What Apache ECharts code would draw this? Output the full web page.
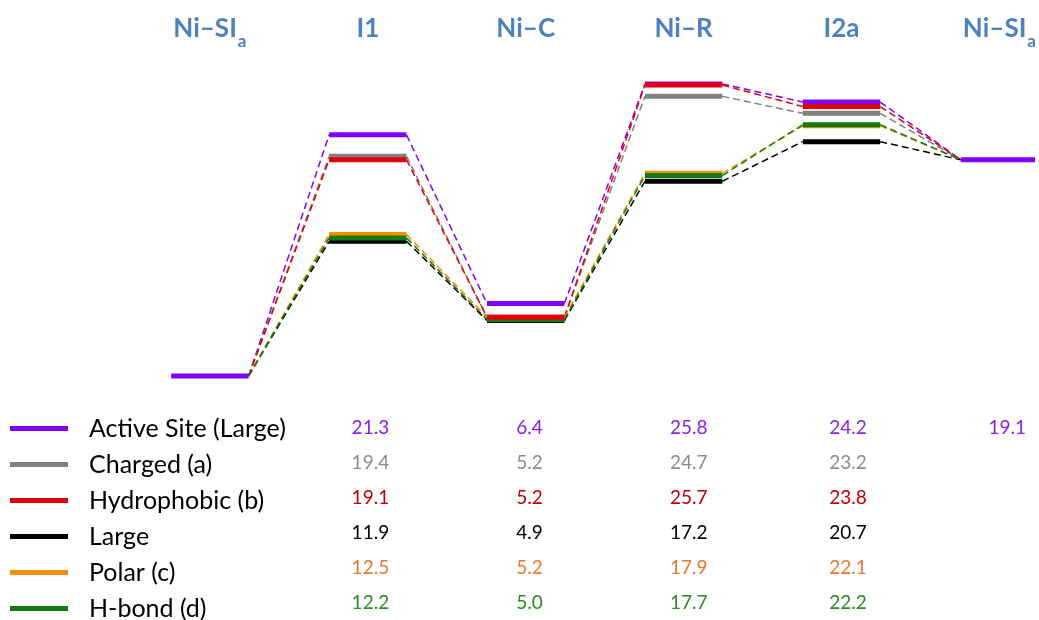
<!DOCTYPE html>
<html>
<head>
<meta charset="utf-8">
<title>Energy profile</title>
<script src="https://cdn.jsdelivr.net/npm/echarts@6/dist/echarts.min.js"></script>
<style>
  html, body { margin: 0; padding: 0; background: #ffffff; }
  #chart { width: 1039px; height: 620px; }
</style>
</head>
<body>
<div id="chart"></div>
<script>
// Reaction stages (column headers); '{sub|a}' renders the subscript
const stageLabels = ['Ni–SI{sub|a}', 'I1', 'Ni–C', 'Ni–R', 'I2a', 'Ni–SI{sub|a}'];

// Relative energies per stage; null = the shared reference level of the active site
const activeSite  = [0, 21.3, 6.4, 25.8, 24.2, 19.1];
const charged     = [null, 19.4, 5.2, 24.7, 23.2, null];
const hydrophobic = [null, 19.1, 5.2, 25.7, 23.8, null];
const large       = [null, 11.9, 4.9, 17.2, 20.7, null];
const polar       = [null, 12.5, 5.2, 17.9, 22.1, null];
const hbond       = [null, 12.2, 5.0, 17.7, 22.2, null];

const seriesNames = ['Active Site (Large)', 'Charged (a)', 'Hydrophobic (b)', 'Large', 'Polar (c)', 'H-bond (d)'];
const seriesValues = [activeSite, charged, hydrophobic, large, polar, hbond];
const lineColors = ['#8000ff', '#808080', '#e0000b', '#000000', '#ff8c00', '#107c10'];
const textColors = ['#8a1cf0', '#8c8c8c', '#c00000', '#000000', '#e8772e', '#2a8a22'];

// draw order of the level bars (later = on top)
const drawOrder = [0, 1, 3, 4, 5, 2];

const HALF = 0.245; // half width of a level bar in stage units

function levelData(vals) {
  const out = [];
  vals.forEach((v, i) => {
    if (v === null) return;
    out.push([i - HALF, v], [i + HALF, v], ['-', '-']);
  });
  return out;
}

function connectorData(vals) {
  const out = [];
  const val = i => (vals[i] === null ? activeSite[i] : vals[i]);
  for (let i = 0; i < vals.length - 1; i++) {
    out.push([i + HALF, val(i)], [i + 1 - HALF, val(i + 1)], ['-', '-']);
  }
  return out;
}

const series = [];

// dashed connectors between consecutive stages
seriesValues.forEach((vals, k) => {
  series.push({
    type: 'line', name: seriesNames[k], xAxisIndex: 0, yAxisIndex: 0,
    data: connectorData(vals), showSymbol: false, silent: true, z: 2,
    connectNulls: false, clip: false,
    itemStyle: { color: lineColors[k] },
    lineStyle: { color: lineColors[k], width: 1.5, type: [7, 4] }
  });
});

// solid energy levels
drawOrder.forEach(k => {
  series.push({
    type: 'line', name: seriesNames[k], xAxisIndex: 0, yAxisIndex: 0,
    data: levelData(seriesValues[k]), showSymbol: false, silent: true, z: 3,
    connectNulls: false, clip: false,
    itemStyle: { color: lineColors[k] },
    lineStyle: { color: lineColors[k], width: 5, cap: 'butt' }
  });
});

// value table below the diagram (stages I1 .. final Ni–SIa)
seriesValues.forEach((vals, k) => {
  const data = [];
  vals.forEach((v, i) => {
    if (i === 0 || v === null) return;
    data.push([i, k, v]);
  });
  series.push({
    type: 'scatter', name: seriesNames[k], xAxisIndex: 1, yAxisIndex: 1,
    data: data, symbolSize: 0, silent: true,
    itemStyle: { color: lineColors[k], opacity: 1 },
    label: {
      show: true, position: 'inside',
      formatter: p => p.value[2].toFixed(1),
      color: textColors[k], fontFamily: 'Lato', fontSize: 19, opacity: 1
    }
  });
});

const chart = echarts.init(document.getElementById('chart'), null, { renderer: 'canvas' });
chart.setOption({
  animation: false,
  backgroundColor: '#ffffff',
  grid: [
    { left: 52, right: 0, top: 59, height: 317 },
    { left: 52, right: 0, top: 410, height: 214 }
  ],
  xAxis: [
    {
      type: 'value', gridIndex: 0, min: -1, max: 5.2, interval: 1, position: 'top',
      axisLine: { show: false }, axisTick: { show: false }, splitLine: { show: false },
      axisLabel: {
        show: true, margin: 30, verticalAlign: 'middle',
        formatter: v => (Number.isInteger(v) && v >= 0 && v < stageLabels.length ? stageLabels[v] : ''),
        color: '#4f81bd', fontFamily: 'Lato', fontWeight: 'bold', fontSize: 26,
        rich: {
          sub: { color: '#4f81bd', fontFamily: 'Lato', fontWeight: 'bold', fontSize: 17, padding: [25, 0, 0, 1] }
        }
      }
    },
    {
      type: 'value', gridIndex: 1, min: -1, max: 5.2, interval: 1, show: false
    }
  ],
  yAxis: [
    { type: 'value', gridIndex: 0, min: 0, max: 28, show: false },
    { type: 'category', gridIndex: 1, data: seriesNames, inverse: true, show: false }
  ],
  legend: {
    orient: 'vertical', left: 10, top: 416, height: 260, padding: 0,
    data: seriesNames,
    icon: 'rect', itemWidth: 58, itemHeight: 5, itemGap: 11.0,
    selectedMode: false,
    textStyle: { fontFamily: 'Lato', fontSize: 25, color: '#000000', padding: [0, 0, 0, 16] }
  },
  series: series
});
</script>
</body>
</html>
